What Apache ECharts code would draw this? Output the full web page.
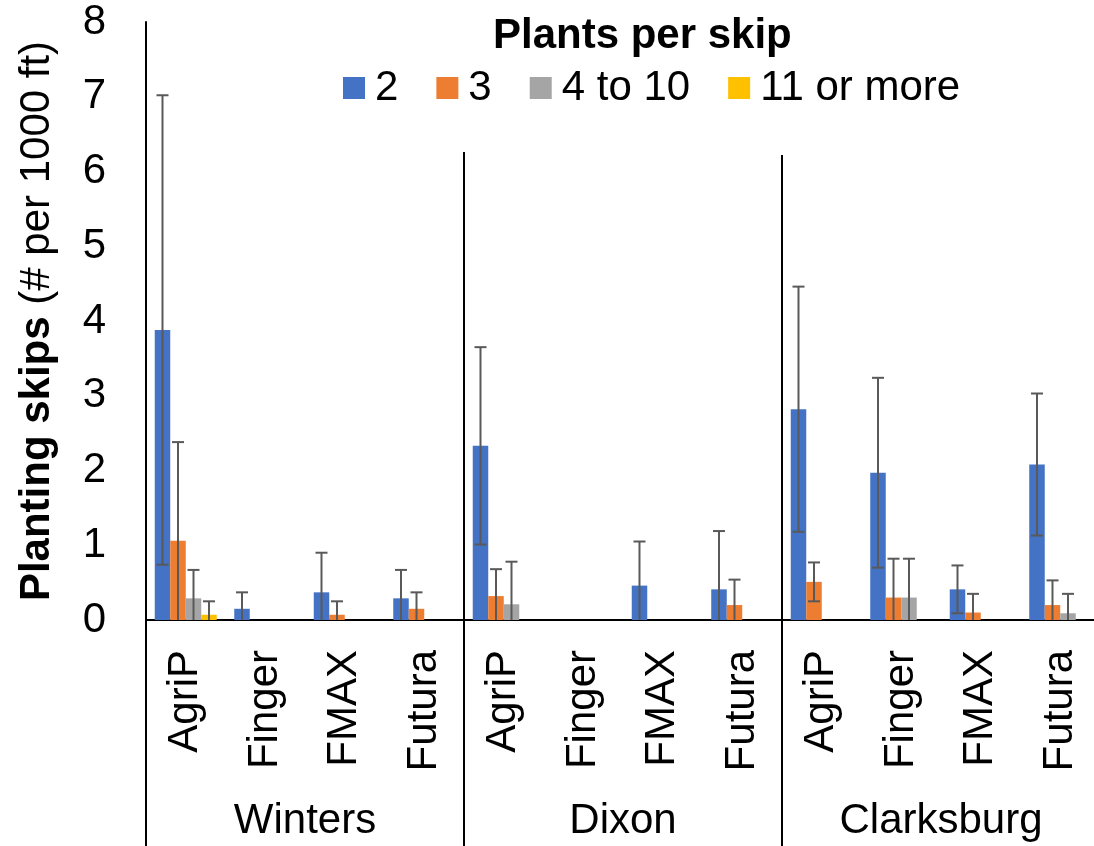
<!DOCTYPE html>
<html>
<head>
<meta charset="utf-8">
<script src="https://cdn.jsdelivr.net/npm/echarts@6/dist/echarts.min.js"></script>
<style>
html,body{margin:0;padding:0;background:#fff;}
#chart{width:1094px;height:846px;}
</style>
</head>
<body>
<div id="chart"></div>
<script>
// ---- data ----
const products = ['AgriP','Finger','FMAX','Futura','AgriP','Finger','FMAX','Futura','AgriP','Finger','FMAX','Futura'];
const sites = ['Winters','Dixon','Clarksburg'];
const seriesNames = ['2','3','4 to 10','11 or more'];
const yTicks = [0,1,2,3,4,5,6,7,8];

const vals2  = [3.88, 0.15, 0.37, 0.29, 2.33, 0, 0.46, 0.41, 2.82, 1.97, 0.41, 2.08];
const err2   = [3.14, 0.22, 0.53, 0.38, 1.32, 0, 0.59, 0.78, 1.64, 1.27, 0.32, 0.95];
const vals3  = [1.06, 0, 0.07, 0.15, 0.32, 0, 0, 0.20, 0.51, 0.30, 0.10, 0.20];
const err3   = [1.32, 0, 0.18, 0.22, 0.36, 0, 0, 0.34, 0.26, 0.52, 0.25, 0.33];
const vals4  = [0.29, 0, 0, 0, 0.21, 0, 0, 0, 0, 0.30, 0, 0.09];
const err4   = [0.38, 0, 0, 0, 0.57, 0, 0, 0, 0, 0.52, 0, 0.26];
const vals11 = [0.07, 0, 0, 0, 0, 0, 0, 0, 0, 0, 0, 0];
const err11  = [0.18, 0, 0, 0, 0, 0, 0, 0, 0, 0, 0, 0];

// site divider lines: [category index, top value, side]
const dividerCats = [0, 3, 7];
const dividerTops = [0, 6.26, 6.22];
const dividerSides = [-1, 1, 1];

// ---- chart ----
const FONT = 'Liberation Sans, Arial, sans-serif';
const colors = ['#4472C4','#ED7D31','#A5A5A5','#FFC000'];
const allVals = [vals2, vals3, vals4, vals11];
const allErrs = [err2, err3, err4, err11];
const CAT_GAP = 0.22;

const chart = echarts.init(document.getElementById('chart'));

function errRenderer(si) {
  return function (params, api) {
    const ci = api.value(0), v = api.value(1), e = api.value(2);
    if (!e) return;
    const band = api.size([1, 0])[0];
    const group = band * (1 - CAT_GAP);
    const bw = group / 4;
    const x = api.coord([ci, 0])[0] - group / 2 + bw * (si + 0.5);
    const yTop = api.coord([ci, v + e])[1];
    const low = v - e;
    const yBot = api.coord([ci, Math.max(0, low)])[1];
    const cap = 6;
    const st = { stroke: '#595959', lineWidth: 2 };
    const ch = [
      { type: 'line', shape: { x1: x, y1: yTop, x2: x, y2: yBot }, style: st },
      { type: 'line', shape: { x1: x - cap, y1: yTop, x2: x + cap, y2: yTop }, style: st }
    ];
    if (low >= 0) ch.push({ type: 'line', shape: { x1: x - cap, y1: yBot, x2: x + cap, y2: yBot }, style: st });
    return { type: 'group', children: ch };
  };
}

const series = [];
seriesNames.forEach((n, i) => {
  series.push({
    name: n, type: 'bar', data: allVals[i],
    barGap: '0%', barCategoryGap: (CAT_GAP * 100) + '%',
    itemStyle: { color: colors[i] }, z: 2
  });
});
seriesNames.forEach((n, i) => {
  series.push({
    type: 'custom', name: 'err' + i, renderItem: errRenderer(i),
    data: allVals[i].map((v, k) => [k, v, allErrs[i][k]]),
    encode: { x: 0, y: 1 }, z: 3, silent: true, clip: false
  });
});
series.push({
  type: 'custom', name: 'dividers', clip: false, silent: true, z: 4,
  data: dividerCats.map((c, k) => [c, dividerTops[k], dividerSides[k]]),
  encode: { x: 0, y: 1 },
  renderItem: function (params, api) {
    const band = api.size([1, 0])[0];
    const x = api.coord([api.value(0), 0])[0] + api.value(2) * band / 2;
    const yT = api.coord([api.value(0), api.value(1)])[1];
    return { type: 'line', shape: { x1: x, y1: yT, x2: x, y2: api.getHeight() },
             style: { stroke: '#000', lineWidth: 2 } };
  }
});

chart.setOption({
  animation: false,
  backgroundColor: '#fff',
  textStyle: { fontFamily: FONT },
  title: {
    text: 'Plants per skip', left: 488, top: 10,
    textStyle: { fontFamily: FONT, fontSize: 42, fontWeight: 'bold', color: '#000' }
  },
  legend: {
    data: seriesNames, left: 338, top: 62, icon: 'rect',
    itemWidth: 22, itemHeight: 22, itemGap: 38,
    textStyle: { fontFamily: FONT, fontSize: 42, color: '#000', padding: [0, 0, 0, 5] }
  },
  grid: { left: 146, top: 22, width: 954, height: 598, outerBoundsMode: 'none' },
  xAxis: [
    {
      type: 'category', data: products,
      axisLine: { lineStyle: { color: '#000', width: 2 } },
      axisTick: { show: false },
      axisLabel: { rotate: 90, fontSize: 42, margin: 30, color: '#000', fontFamily: FONT, interval: 0 }
    },
    {
      type: 'category', data: sites, position: 'bottom', offset: 180,
      axisLine: { show: false }, axisTick: { show: false },
      axisLabel: { fontSize: 42, margin: 0, color: '#000', fontFamily: FONT, interval: 0 }
    }
  ],
  yAxis: {
    type: 'value', min: yTicks[0], max: yTicks[yTicks.length - 1], interval: 1,
    axisLine: { show: true, lineStyle: { color: '#000', width: 2 } },
    axisTick: { show: false },
    splitLine: { show: false },
    axisLabel: { fontSize: 42, margin: 40, color: '#000', fontFamily: FONT },
    name: '{b|Planting skips} (# per 1000 ft)',
    nameLocation: 'middle', nameRotate: 90, nameGap: 88,
    nameTextStyle: {
      fontSize: 42, color: '#000', fontFamily: FONT,
      rich: { b: { fontSize: 42, fontWeight: 'bold', color: '#000', fontFamily: FONT } }
    }
  },
  series: series
});
</script>
</body>
</html>
